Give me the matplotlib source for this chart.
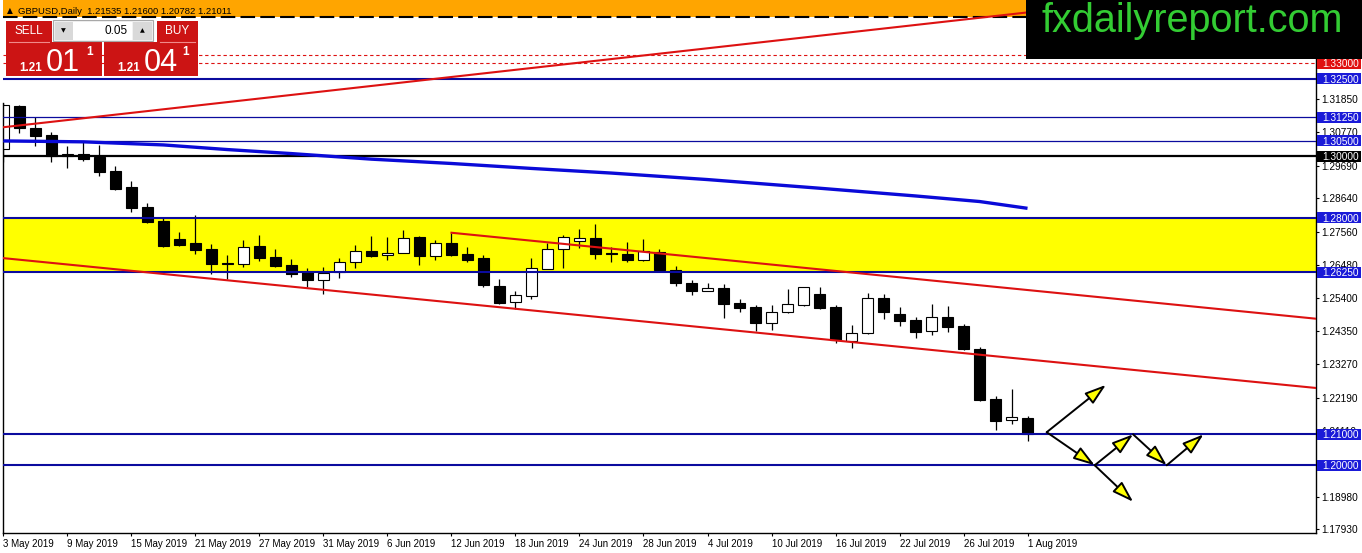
import matplotlib
matplotlib.use("Agg")
import matplotlib.pyplot as plt
from matplotlib.patches import Rectangle, FancyArrowPatch, ArrowStyle
from matplotlib.transforms import blended_transform_factory

plt.rcParams['font.family'] = ['Liberation Sans', 'DejaVu Sans']

# ---------------- data ----------------
opens = [1.3023, 1.3162, 1.3092, 1.3068, 1.3000, 1.3007, 1.2996, 1.2952, 1.2900, 1.2835,
         1.2790, 1.2732, 1.2719, 1.2699, 1.2654, 1.2650, 1.2709, 1.2674, 1.2648, 1.2626,
         1.2599, 1.2626, 1.2656, 1.2693, 1.2679, 1.2686, 1.2738, 1.2678, 1.2719, 1.2683,
         1.2670, 1.2580, 1.2527, 1.2548, 1.2636, 1.2698, 1.2724, 1.2734, 1.2686, 1.2682,
         1.2665, 1.2691, 1.2632, 1.2590, 1.2565, 1.2572, 1.2524, 1.2511, 1.2459, 1.2497,
         1.2517, 1.2554, 1.2511, 1.2403, 1.2427, 1.2540, 1.2489, 1.2470, 1.2433, 1.2479,
         1.2450, 1.2375, 1.2213, 1.2145, 1.21535]
highs = [1.3172, 1.3166, 1.3125, 1.3077, 1.3033, 1.3045, 1.3036, 1.2968, 1.2920, 1.2847,
         1.2799, 1.2755, 1.2809, 1.2716, 1.2680, 1.2729, 1.2745, 1.2699, 1.2666, 1.2637,
         1.2641, 1.2669, 1.2712, 1.2741, 1.2738, 1.2761, 1.2740, 1.2729, 1.2752, 1.2705,
         1.2679, 1.2602, 1.2564, 1.2669, 1.2720, 1.2745, 1.2763, 1.2780, 1.2707, 1.2721,
         1.2731, 1.2700, 1.2645, 1.2599, 1.2589, 1.2585, 1.2537, 1.2518, 1.2518, 1.2569,
         1.2578, 1.2576, 1.2518, 1.2453, 1.2556, 1.2553, 1.2511, 1.2479, 1.2522, 1.2515,
         1.2456, 1.2382, 1.2224, 1.2247, 1.21600]
lows = [1.2981, 1.3076, 1.3034, 1.2982, 1.2962, 1.2985, 1.2936, 1.2890, 1.2820, 1.2784,
        1.2707, 1.2709, 1.2682, 1.2620, 1.2601, 1.2642, 1.2661, 1.2642, 1.2608, 1.2578,
        1.2554, 1.2607, 1.2639, 1.2675, 1.2664, 1.2685, 1.2648, 1.2664, 1.2678, 1.2657,
        1.2578, 1.2522, 1.2505, 1.2539, 1.2634, 1.2639, 1.2704, 1.2667, 1.2658, 1.2656,
        1.2661, 1.2628, 1.2581, 1.2551, 1.2564, 1.2477, 1.2497, 1.2434, 1.2437, 1.2493,
        1.2516, 1.2506, 1.2394, 1.2378, 1.2425, 1.2474, 1.2451, 1.2413, 1.2422, 1.2432,
        1.2373, 1.2209, 1.2114, 1.2133, 1.20782]
closes = [1.3165, 1.3091, 1.3066, 1.3000, 1.3007, 1.2991, 1.2949, 1.2894, 1.2833, 1.2788,
          1.2710, 1.2713, 1.2697, 1.2652, 1.2650, 1.2706, 1.2671, 1.2645, 1.2620, 1.2600,
          1.2623, 1.2656, 1.2692, 1.2678, 1.2687, 1.2734, 1.2678, 1.2718, 1.2680, 1.2664,
          1.2583, 1.2526, 1.2550, 1.2637, 1.2698, 1.2737, 1.2734, 1.2682, 1.2683, 1.2664,
          1.2694, 1.2632, 1.2589, 1.2565, 1.2572, 1.2521, 1.2510, 1.2459, 1.2497, 1.2521,
          1.2576, 1.2510, 1.2405, 1.2427, 1.2540, 1.2497, 1.2468, 1.2432, 1.2479, 1.2448,
          1.2376, 1.2211, 1.2144, 1.2156, 1.21011]

date_tick_idx = list(range(0, 65, 4))
date_labels = ["3 May 2019", "9 May 2019", "15 May 2019", "21 May 2019", "27 May 2019",
               "31 May 2019", "6 Jun 2019", "12 Jun 2019", "18 Jun 2019", "24 Jun 2019",
               "28 Jun 2019", "4 Jul 2019", "10 Jul 2019", "16 Jul 2019", "22 Jul 2019",
               "26 Jul 2019", "1 Aug 2019"]

price_ticks = [1.32930, 1.31850, 1.30770, 1.29690, 1.28640, 1.27560, 1.26480, 1.25400,
               1.24350, 1.23270, 1.22190, 1.21110, 1.18980, 1.17930]

# moving average (vertices)
ma_idx = [0, 5, 10, 14, 18, 23, 28, 33, 38, 44, 51, 57, 61, 64]
ma_val = [1.3049, 1.3046, 1.3036, 1.3021, 1.3008, 1.2990, 1.2976, 1.2960, 1.2945, 1.2924,
          1.2896, 1.2871, 1.2853, 1.2831]

# horizontal levels
blue_thick = [1.3250, 1.2800, 1.2625, 1.2100, 1.2000]
blue_thin = [1.3125, 1.3050]
black_level = 1.3000
red_dashed = [1.3328, 1.3300]
zone_low, zone_high = 1.2625, 1.2800
orange_low, orange_high = 1.3451, 1.3600

# trend lines (anchor points)
trend_up_x, trend_up_y = [-0.22, 63.9], [1.3092, 1.3464]
chan_low_x, chan_low_y = [-0.22, 82.03], [1.2671, 1.2250]
chan_high_x, chan_high_y = [28, 82.03], [1.2752, 1.2474]

# scenario arrows: points and segments
arrow_pts = {"A": (65.2, 1.2107), "U": (68.9, 1.2260), "B": (68.2, 1.2000),
             "L": (70.6, 1.1882), "C": (70.6, 1.2100), "D": (72.7, 1.2000),
             "E": (75.0, 1.2100)}
arrow_segs = [("A", "U"), ("A", "B"), ("B", "L"), ("B", "C"), ("C", "D"), ("D", "E")]

# axis labels with colour boxes
level_labels = [(1.3300, "#e01010"), (1.3250, "#1a1ad8"), (1.3125, "#1a1ad8"),
                (1.3050, "#1a1ad8"), (1.3000, "#000000"), (1.2800, "#1a1ad8"),
                (1.2625, "#1a1ad8"), (1.2100, "#1a1ad8"), (1.2000, "#1a1ad8")]

# ---------------- figure ----------------
W, H = 1362, 553
fig = plt.figure(figsize=(W / 100, H / 100), dpi=100)
fig.patch.set_facecolor("white")
ax = fig.add_axes([3 / W, 20 / H, 1313 / W, 533 / H])
ax.set_facecolor("white")
ax.set_xlim(-0.03, 82.03)
ax.set_ylim(1.17810, 1.35047)

# zones
ax.axhspan(zone_low, zone_high, color="#ffff00", zorder=0.5, lw=0)
ax.axhspan(orange_low, orange_high, color="#ffa500", zorder=0.5, lw=0)
ax.axhline(orange_low, color="black", lw=1.5, dashes=(7, 2.5), zorder=0.6)

# candles
n = len(opens)
xs = list(range(n))
ax.vlines(xs, lows, highs, color="black", lw=0.9, zorder=2)
bottoms = [min(o, c) for o, c in zip(opens, closes)]
heights = [max(abs(c - o), 0.00003) for o, c in zip(opens, closes)]
colors = ["white" if c >= o else "black" for o, c in zip(opens, closes)]
ax.bar(xs, heights, bottom=bottoms, width=0.64, color=colors, edgecolor="black",
       linewidth=0.8, zorder=2.1)

# levels
for p in blue_thick:
    ax.axhline(p, color="#0b0b9e", lw=1.5, zorder=3)
for p in blue_thin:
    ax.axhline(p, color="#0b0b9e", lw=0.9, zorder=3)
ax.axhline(black_level, color="black", lw=1.6, zorder=3)
for p in red_dashed:
    ax.axhline(p, color="#dd1111", lw=0.8, dashes=(3, 2.5), zorder=3)

# moving average
ax.plot(ma_idx, ma_val, color="#0a0ad8", lw=2.4, zorder=3.2, solid_capstyle="butt")

# trend lines
ax.axline((trend_up_x[0], trend_up_y[0]), (trend_up_x[1], trend_up_y[1]),
          color="#dd1111", lw=1.5, zorder=3.3)
ax.plot(chan_low_x, chan_low_y, color="#dd1111", lw=1.5, zorder=3.3)
ax.plot(chan_high_x, chan_high_y, color="#dd1111", lw=1.5, zorder=3.3)

# scenario arrows
style = ArrowStyle("-|>", head_length=13, head_width=4.2)
for a, b in arrow_segs:
    arr = FancyArrowPatch(arrow_pts[a], arrow_pts[b], arrowstyle=style, mutation_scale=1,
                          fc="#ffff00", ec="black", lw=1.4, shrinkA=0, shrinkB=0,
                          zorder=4)
    ax.add_patch(arr)

# axes styling
ax.spines["top"].set_visible(False)
ax.spines["left"].set_bounds(1.17810, highs[0])
for s in ["left", "right", "bottom"]:
    ax.spines[s].set_linewidth(1.0)
    ax.spines[s].set_color("black")

ax.yaxis.tick_right()
ax.set_yticks(price_ticks)
ax.set_yticklabels([f"{v:.5f}" for v in price_ticks])
ax.tick_params(axis="y", right=True, left=False, labelright=True, labelleft=False,
               length=2.5, width=0.8, pad=1.5, labelsize=7.3, colors="black")
ax.set_xticks(date_tick_idx)
ax.set_xticklabels(date_labels)
ax.tick_params(axis="x", length=2.5, width=0.8, pad=1.5, labelsize=7.0)
for t in ax.get_xticklabels():
    t.set_ha("left")

trans = blended_transform_factory(ax.transAxes, ax.transData)
box_h = 11 * (1.35047 - 1.17810) / 533
for p, col in level_labels:
    ax.add_patch(Rectangle((1.00076, p - box_h / 2), 44 / 1313, box_h, transform=trans,
                           fc=col, ec="none", clip_on=False, zorder=10))
    ax.text(1.0046, p, f"{p:.5f}", transform=trans, color="white", fontsize=7.3,
            va="center_baseline", ha="left", zorder=11, clip_on=False)

# ---------------- overlay (pixel coordinates) ----------------
ov = fig.add_axes([0, 0, 1, 1], zorder=10)
ov.set_xlim(0, W)
ov.set_ylim(H, 0)
ov.axis("off")
ov.patch.set_alpha(0)

# header
ov.text(7, 13.5, "\u25b2", fontsize=5.5, color="black", family=["DejaVu Sans"], va="baseline")
ov.text(18, 14, "GBPUSD,Daily  1.21535 1.21600 1.20782 1.21011", fontsize=6.8,
        color="black", va="baseline")

# watermark box
ov.add_patch(Rectangle((1026, 0), W - 1026, 58.5, fc="black", ec="none"))
ov.text(1192, 32.5, "fxdailyreport.com", fontsize=28.5, color="#33cc33", ha="center",
        va="baseline", family=["Liberation Sans"])

# trading panel
red = "#cc1414"
ov.add_patch(Rectangle((6, 20.5), 46, 21.5, fc=red, ec="none"))
ov.add_patch(Rectangle((6, 42), 96, 34, fc=red, ec="none"))
ov.add_patch(Rectangle((157, 20.5), 41, 21.5, fc=red, ec="none"))
ov.add_patch(Rectangle((104, 42), 94, 34, fc=red, ec="none"))
ov.plot([9, 49], [42, 42], color="#f08a8a", lw=0.8)
ov.plot([160, 195], [42, 42], color="#f08a8a", lw=0.8)
ov.text(29, 31.5, "SELL", color="white", fontsize=8.5, ha="center", va="center")
ov.text(177.5, 31.5, "BUY", color="white", fontsize=8.5, ha="center", va="center")
ov.add_patch(Rectangle((53, 20), 100, 21, fc="#f2f2f2", ec="#a8a8a8", lw=0.8))
ov.add_patch(Rectangle((54.5, 21.5), 18, 18, fc="#d9d9d9", ec="none"))
ov.add_patch(Rectangle((73, 21.5), 59, 18, fc="white", ec="none"))
ov.add_patch(Rectangle((132.5, 21.5), 19, 18, fc="#d9d9d9", ec="none"))
ov.text(63.5, 30.5, "\u25bc", fontsize=4.5, ha="center", va="center", family=["DejaVu Sans"])
ov.text(142, 30.5, "\u25b2", fontsize=4.5, ha="center", va="center", family=["DejaVu Sans"])
ov.text(128, 31, "0.05", fontsize=8.5, ha="right", va="center", color="black")

ov.text(19, 71, "1.21", color="white", fontsize=8.4, weight="bold", va="baseline")
ov.text(46, 71, "01", color="white", fontsize=22, va="baseline")
ov.text(86, 55, "1", color="white", fontsize=8.5, weight="bold", va="baseline")
ov.text(117, 71, "1.21", color="white", fontsize=8.4, weight="bold", va="baseline")
ov.text(144, 71, "04", color="white", fontsize=22, va="baseline")
ov.text(182, 55, "1", color="white", fontsize=8.5, weight="bold", va="baseline")

fig.savefig("out.png", dpi=100, facecolor="white")
